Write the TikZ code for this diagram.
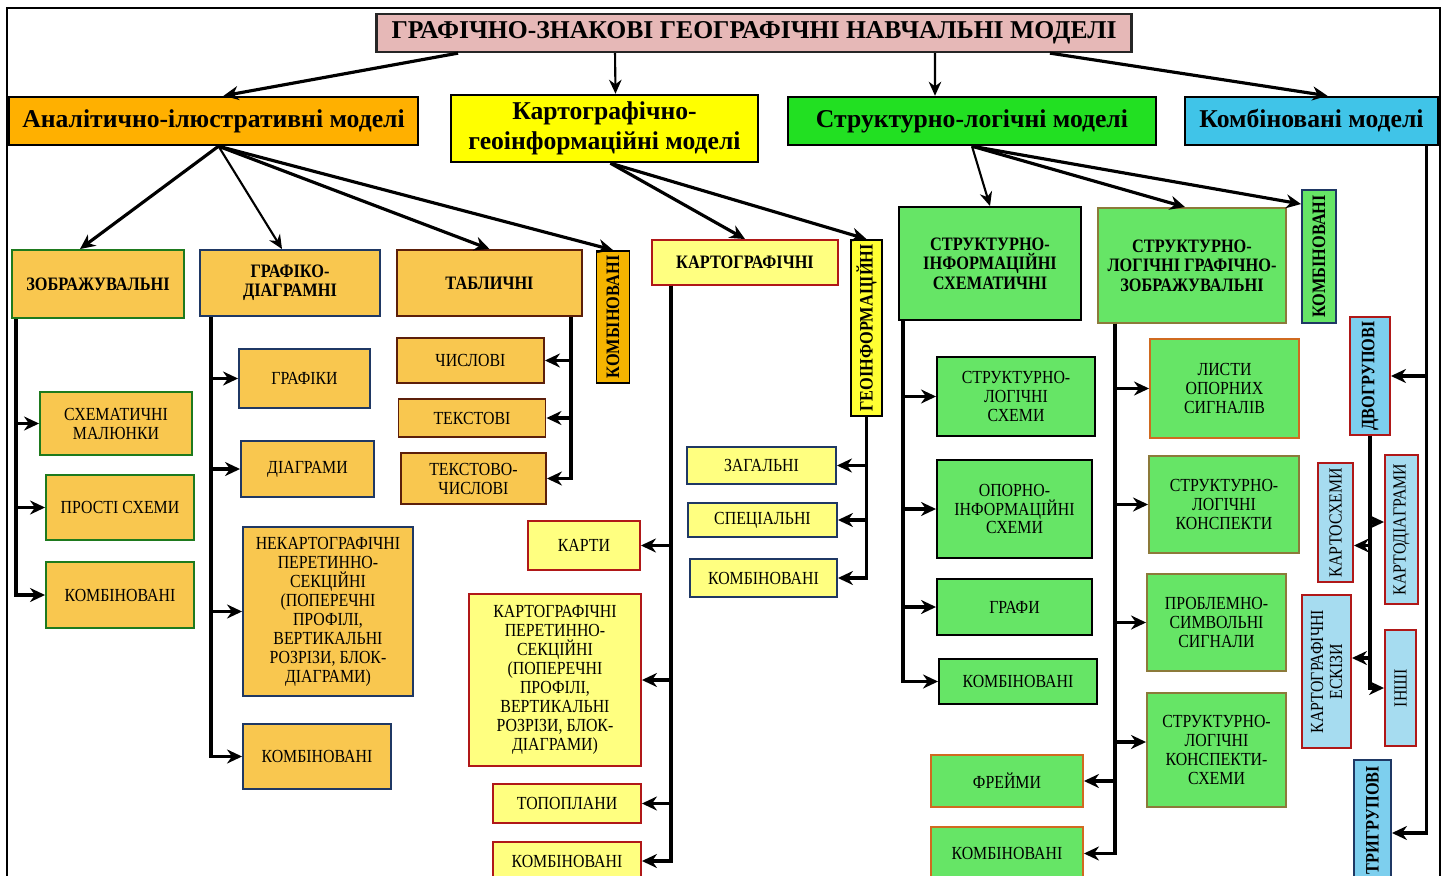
\documentclass[tikz,border=0pt]{standalone}
\usepackage{fontspec}
\setmainfont{Liberation Serif}
\newfontfamily\condserif[FakeStretch=0.86]{Liberation Serif}
\usepackage{tikz}
\usetikzlibrary{arrows.meta, positioning, calc}

\definecolor{titlepink}{HTML}{E6B8B7}
\definecolor{aorange}{HTML}{FFB000}
\definecolor{lorange}{HTML}{F9C74F}
\definecolor{vorange}{HTML}{F5B400}
\definecolor{kyellow}{HTML}{FFFF00}
\definecolor{lyellow}{HTML}{FFFF80}
\definecolor{sgreen}{HTML}{22E022}
\definecolor{lgreen}{HTML}{66E566}
\definecolor{ccyan}{HTML}{40C4E8}
\definecolor{lblue}{HTML}{A6DCF0}
\definecolor{mblue}{HTML}{7DCFEE}
\definecolor{bgreen}{HTML}{1E7A1E}
\definecolor{bblue}{HTML}{1F3864}
\definecolor{bbrown}{HTML}{5C1F0A}
\definecolor{bred}{HTML}{B01818}
\definecolor{bolive}{HTML}{8C7A3A}
\definecolor{borange}{HTML}{D06A20}

\begin{document}
\begin{tikzpicture}[
  x=0.02cm, y=-0.02cm,
  title/.style={rectangle, draw=black!85, line width=1.3pt, fill=titlepink,
                font=\bfseries\fontsize{14.6}{16}\selectfont, inner sep=1pt},
  model/.style={rectangle, draw=black, line width=1.4pt, align=center,
                font=\bfseries\fontsize{14.6}{17}\selectfont, inner sep=1pt},
  group/.style={rectangle, line width=1.1pt, align=center,
                font=\condserif\bfseries\fontsize{10.8}{11}\selectfont, inner sep=1pt},
  item/.style={rectangle, line width=1.1pt, align=center,
               font=\condserif\fontsize{10.5}{10.8}\selectfont, inner sep=1pt},
  vert/.style={rotate=90},
  arr/.style={-{Stealth[length=3mm, width=2.8mm]}, line width=1.8pt},
  tarr/.style={-{Stealth[length=2.8mm, width=2.5mm]}, line width=1.2pt},
]
\useasboundingbox (0,0) rectangle (1448,876);
\draw[line width=1.2pt] (7,876) |- (1440,8) -- (1440,876);

% Title and models
\node[title, minimum width=15.1cm, minimum height=0.76cm] (top) at (754,33) {ГРАФІЧНО-ЗНАКОВІ ГЕОГРАФІЧНІ НАВЧАЛЬНІ МОДЕЛІ};
\node[model, fill=aorange, minimum width=8.18cm, minimum height=0.96cm] (anal) at (213.5,121) {Аналітично-ілюстративні моделі};
\node[model, fill=kyellow, minimum width=6.14cm, minimum height=1.34cm] (kartgeo) at (604.5,128.5) {Картографічно-\\геоінформаційні моделі};
\node[model, fill=sgreen, minimum width=7.36cm, minimum height=0.96cm] (slog) at (972,121) {Структурно-логічні моделі};
\node[model, fill=ccyan, minimum width=5.06cm, minimum height=0.96cm] (comb) at (1311.5,121) {Комбіновані моделі};

% Analytic-illustrative
\node[group, fill=lorange, draw=bgreen, minimum width=3.44cm, minimum height=1.36cm] (zobr) at (98,284) {ЗОБРАЖУВАЛЬНІ};
\node[group, fill=lorange, draw=bblue, minimum width=3.6cm, minimum height=1.32cm] (grd) at (290,283) {ГРАФІКО-\\ДІАГРАМНІ};
\node[group, fill=lorange, draw=bbrown, minimum width=3.7cm, minimum height=1.32cm] (tab) at (489.5,283) {ТАБЛИЧНІ};
\node[group, vert, fill=vorange, draw=black, minimum width=2.64cm, minimum height=0.66cm] (akomb) at (613,317) {КОМБІНОВАНІ};

\node[item, fill=lorange, draw=bgreen, minimum width=3.04cm, minimum height=1.26cm] (zschem) at (116,423.5) {СХЕМАТИЧНІ\\МАЛЮНКИ};
\node[item, fill=lorange, draw=bgreen, minimum width=2.96cm, minimum height=1.3cm] (zprost) at (120,507.5) {ПРОСТІ СХЕМИ};
\node[item, fill=lorange, draw=bgreen, minimum width=2.96cm, minimum height=1.32cm] (zkomb) at (120,595) {КОМБІНОВАНІ};

\node[item, fill=lorange, draw=bblue, minimum width=2.62cm, minimum height=1.18cm] (grgraf) at (304.5,378.5) {ГРАФІКИ};
\node[item, fill=lorange, draw=bblue, minimum width=2.66cm, minimum height=1.12cm] (grdiag) at (307.5,469) {ДІАГРАМИ};
\node[item, fill=lorange, draw=bblue, minimum width=3.4cm, minimum height=3.38cm] (grnek) at (328,611.5) {НЕКАРТОГРАФІЧНІ\\ПЕРЕТИННО-\\СЕКЦІЙНІ\\(ПОПЕРЕЧНІ\\ПРОФІЛІ,\\ВЕРТИКАЛЬНІ\\РОЗРІЗИ, БЛОК-\\ДІАГРАМИ)};
\node[item, fill=lorange, draw=bblue, minimum width=2.96cm, minimum height=1.3cm] (grkomb) at (317,756.5) {КОМБІНОВАНІ};

\node[item, fill=lorange, draw=bbrown, minimum width=2.94cm, minimum height=0.9cm] (tabch) at (470.5,360.5) {ЧИСЛОВІ};
\node[item, fill=lorange, draw=bbrown, minimum width=2.94cm, minimum height=0.76cm] (tabtx) at (472,418) {ТЕКСТОВІ};
\node[item, fill=lorange, draw=bbrown, minimum width=2.9cm, minimum height=1.02cm] (tabtch) at (473.5,478.5) {ТЕКСТОВО-\\ЧИСЛОВІ};

% Cartographic-geoinformation
\node[group, fill=lyellow, draw=bred, minimum width=3.72cm, minimum height=0.9cm] (kart) at (745,262.5) {КАРТОГРАФІЧНІ};
\node[group, vert, fill=kyellow!80, draw=black, minimum width=3.52cm, minimum height=0.62cm] (geo) at (866.5,328) {ГЕОІНФОРМАЦІЙНІ};

\node[item, fill=lyellow, draw=bred, minimum width=2.24cm, minimum height=0.98cm] (kkarty) at (584,545.5) {КАРТИ};
\node[item, fill=lyellow, draw=bred, minimum width=3.44cm, minimum height=3.44cm] (kperet) at (555,680) {КАРТОГРАФІЧНІ\\ПЕРЕТИННО-\\СЕКЦІЙНІ\\(ПОПЕРЕЧНІ\\ПРОФІЛІ,\\ВЕРТИКАЛЬНІ\\РОЗРІЗИ, БЛОК-\\ДІАГРАМИ)};
\node[item, fill=lyellow, draw=bred, minimum width=2.96cm, minimum height=0.78cm] (ktopo) at (567,803.5) {ТОПОПЛАНИ};
\node[item, fill=lyellow, draw=bred, minimum width=2.96cm, minimum height=0.76cm] (kkomb) at (567,861) {КОМБІНОВАНІ};

\node[item, fill=lyellow, draw=bblue, minimum width=2.98cm, minimum height=0.74cm] (geozag) at (761.5,465.5) {ЗАГАЛЬНІ};
\node[item, fill=lyellow, draw=bblue, minimum width=2.98cm, minimum height=0.68cm] (geospec) at (762.5,520) {СПЕЦІАЛЬНІ};
\node[item, fill=lyellow, draw=bblue, minimum width=2.94cm, minimum height=0.76cm] (geokomb) at (763.5,578) {КОМБІНОВАНІ};

% Structural-logical
\node[group, fill=lgreen, draw=black, minimum width=3.64cm, minimum height=2.26cm] (ssch) at (990,263.5) {СТРУКТУРНО-\\ІНФОРМАЦІЙНІ\\СХЕМАТИЧНІ};
\node[group, fill=lgreen, draw=bolive, minimum width=3.76cm, minimum height=2.3cm] (sgraf) at (1192,265.5) {СТРУКТУРНО-\\ЛОГІЧНІ ГРАФІЧНО-\\ЗОБРАЖУВАЛЬНІ};
\node[group, vert, fill=lgreen, draw=bblue, minimum width=2.66cm, minimum height=0.68cm] (skomb) at (1319,256.5) {КОМБІНОВАНІ};

\node[item, fill=lgreen, draw=black, minimum width=3.16cm, minimum height=1.58cm] (slsch) at (1016,396.5) {СТРУКТУРНО-\\ЛОГІЧНІ\\СХЕМИ};
\node[item, fill=lgreen, draw=black, minimum width=3.1cm, minimum height=1.96cm] (sopor) at (1014.5,509) {ОПОРНО-\\ІНФОРМАЦІЙНІ\\СХЕМИ};
\node[item, fill=lgreen, draw=black, minimum width=3.1cm, minimum height=1.12cm] (sgrafy) at (1014.5,607) {ГРАФИ};
\node[item, fill=lgreen, draw=black, minimum width=3.16cm, minimum height=0.9cm] (sikomb) at (1018,681.5) {КОМБІНОВАНІ};

\node[item, fill=lgreen, draw=borange, minimum width=2.98cm, minimum height=1.98cm] (slyst) at (1224.5,388.5) {ЛИСТИ\\ОПОРНИХ\\СИГНАЛІВ};
\node[item, fill=lgreen, draw=bolive, minimum width=3.0cm, minimum height=1.94cm] (skons) at (1224,504.5) {СТРУКТУРНО-\\ЛОГІЧНІ\\КОНСПЕКТИ};
\node[item, fill=lgreen, draw=bolive, minimum width=2.78cm, minimum height=1.94cm] (sprob) at (1216.5,622.5) {ПРОБЛЕМНО-\\СИМВОЛЬНІ\\СИГНАЛИ};
\node[item, fill=lgreen, draw=bolive, minimum width=2.78cm, minimum height=2.28cm] (skonsch) at (1216.5,750) {СТРУКТУРНО-\\ЛОГІЧНІ\\КОНСПЕКТИ-\\СХЕМИ};
\node[item, fill=lgreen, draw=borange, minimum width=3.04cm, minimum height=1.04cm] (sfreim) at (1007,781) {ФРЕЙМИ};
\node[item, fill=lgreen, draw=borange, minimum width=3.04cm, minimum height=1.06cm] (sgkomb) at (1007,853.5) {КОМБІНОВАНІ};

% Combined
\node[group, vert, fill=mblue, draw=bred, minimum width=2.36cm, minimum height=0.8cm] (dvo) at (1370,376) {ДВОГРУПОВІ};
\node[item, vert, fill=lblue, draw=bred, minimum width=2.38cm, minimum height=0.7cm] (ksch) at (1335.5,522.5) {КАРТОСХЕМИ};
\node[item, vert, fill=lblue, draw=bred, minimum width=2.98cm, minimum height=0.66cm] (kdiag) at (1401.5,529.5) {КАРТОДІАГРАМИ};
\node[item, vert, fill=lblue, draw=bred, minimum width=3.06cm, minimum height=0.98cm] (eskiz) at (1326.5,671.5) {КАРТОГРАФІЧНІ\\ЕСКІЗИ};
\node[item, vert, fill=lblue, draw=bred, minimum width=2.32cm, minimum height=0.62cm] (inshi) at (1400.5,688) {ІНШІ};
\node[group, vert, fill=mblue, draw=bblue, minimum width=2.4cm, minimum height=0.74cm] (tryg) at (1372.5,820) {ТРИГРУПОВІ};

% Title arrows
\draw[arr] ([xshift=-5.92cm]top.south) -- ([xshift=0.2cm]anal.north);
\draw[tarr] ([xshift=-2.78cm]top.south) -- ([xshift=0.22cm]kartgeo.north);
\draw[tarr] ([xshift=3.62cm]top.south) -- ([xshift=-0.74cm]slog.north);
\draw[arr] ([xshift=5.92cm]top.south) -- ([xshift=0.32cm]comb.north);

% Model arrows
\draw[arr] ([xshift=0.1cm]anal.south) -- ([xshift=-0.36cm]zobr.north);
\draw[tarr] ([xshift=0.1cm]anal.south) -- ([xshift=-0.16cm]grd.north);
\draw[arr] ([xshift=0.1cm]anal.south) -- (tab.north);
\draw[arr] ([xshift=0.1cm]anal.south) -- (akomb.east);
\draw[arr] ([xshift=0.12cm]kartgeo.south) -- (kart.north);
\draw[arr] ([xshift=0.12cm]kartgeo.south) -- (geo.east);
\draw[tarr] (slog.south) -- (ssch.north);
\draw[arr] (slog.south) -- ([xshift=-0.14cm]sgraf.north);
\draw[arr] (slog.south) -- ([yshift=-0.3cm]skomb.north east);

% Branches
\foreach \c in {zschem, zprost, zkomb}
  \draw[arr] ([xshift=0.1cm]zobr.south west) |- (\c.west);
\foreach \c in {grgraf, grdiag, grnek, grkomb}
  \draw[arr] ([xshift=0.24cm]grd.south west) |- (\c.west);
\foreach \c in {tabch, tabtx, tabtch}
  \draw[arr] ([xshift=-0.24cm]tab.south east) |- (\c.east);
\foreach \c in {kkarty, kperet, ktopo, kkomb}
  \draw[arr] ([xshift=0.4cm]kart.south west) |- (\c.east);
\foreach \c in {geozag, geospec, geokomb}
  \draw[arr] (geo.west) |- (\c.east);
\foreach \c in {slsch, sopor, sgrafy, sikomb}
  \draw[arr] ([xshift=0.1cm]ssch.south west) |- (\c.west);
\foreach \c in {slyst, skons, sprob}
  \draw[arr] ([xshift=0.36cm]sgraf.south west) |- (\c.west);
\draw[arr] ([xshift=0.36cm]sgraf.south west) |- ([yshift=0.16cm]skonsch.west);
\draw[arr] ([xshift=0.36cm]sgraf.south west) |- (sfreim.east);
\draw[arr] ([xshift=0.36cm]sgraf.south west) |- (sgkomb.east);

\draw[arr] ([xshift=-0.26cm]comb.south east) |- (dvo.south);
\draw[arr] ([xshift=-0.26cm]comb.south east) |- ([yshift=-0.26cm]tryg.south);
\draw[arr] (dvo.west) |- ([yshift=-0.46cm]ksch.south);
\draw[arr] (dvo.west) |- ([yshift=0.15cm]kdiag.north);
\draw[arr] (dvo.west) |- ([yshift=0.27cm]eskiz.south);
\draw[arr] (dvo.west) |- (inshi.north);

\end{tikzpicture}
\end{document}
